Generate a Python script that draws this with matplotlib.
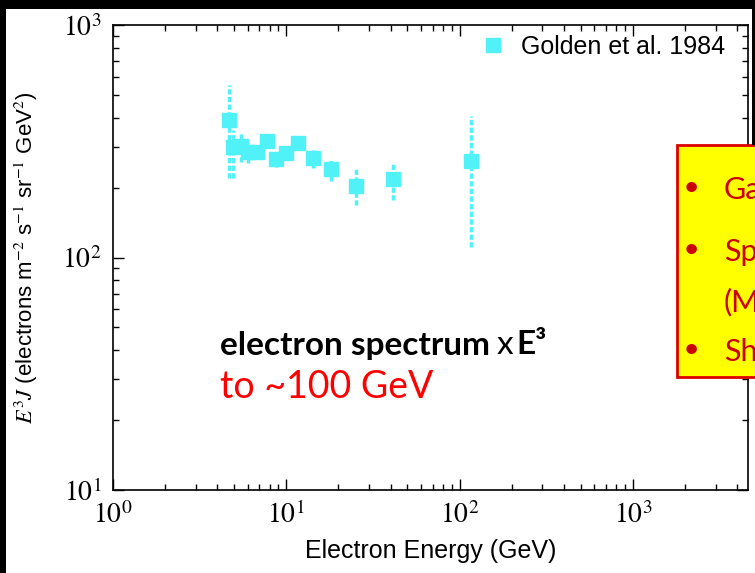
import numpy as np
import matplotlib.pyplot as plt
from matplotlib.patches import Rectangle
from matplotlib.lines import Line2D
from matplotlib.ticker import LogLocator, FuncFormatter, NullFormatter

plt.rcParams['mathtext.fontset'] = 'stix'

# Golden et al. 1984 electron spectrum x E^3
energy = [4.67, 4.95, 5.46, 6.04, 6.75, 7.71, 8.68, 9.96, 11.7, 14.3, 18.2, 25.2, 41.4, 116]
flux = [390, 298, 302, 285, 285, 318, 265, 281, 310, 268, 240, 204, 217, 260]
err_hi = [552, 353, 348, 308, 300, 343, 280, 302, 325, 291, 264, 240, 258, 407]
err_lo = [220, 220, 258, 254, 268, 300, 245, 262, 295, 242, 213, 168, 177, 111]

cyan = '#50F2F8'
sans = 'Liberation Sans'

fig = plt.figure(figsize=(7.55, 5.73), dpi=100)
ax = fig.add_axes([113/755, 83/573, 635/755, 465/573])

flux = np.array(flux)
yerr = [flux - np.array(err_lo), np.array(err_hi) - flux]
eb = ax.errorbar(energy, flux, yerr=yerr, fmt='s', color=cyan, markersize=10,
                 elinewidth=2.5, capsize=0)
eb[2][0].set_linestyle((0, (1.5, 0.7)))

ax.set_xscale('log')
ax.set_yscale('log')
ax.set_xlim(1, 10 ** (635 / 173.3))
ax.set_ylim(10, 1000)

pow_fmt = FuncFormatter(lambda v, pos: r'$10^{%d}$' % round(np.log10(v)))
for axis in (ax.xaxis, ax.yaxis):
    axis.set_major_locator(LogLocator(base=10))
    axis.set_minor_locator(LogLocator(base=10, subs=np.arange(2, 10)))
    axis.set_major_formatter(pow_fmt)
    axis.set_minor_formatter(NullFormatter())

ax.tick_params(which='both', direction='in', top=True, right=True, width=1)
ax.tick_params(which='major', length=8, labelsize=20, pad=8)
ax.tick_params(which='minor', length=4)
for s in ax.spines.values():
    s.set_linewidth(1.2)

ax.set_xlabel('Electron Energy (GeV)', fontsize=18, family=sans)
ax.xaxis.set_label_coords(0.5, -0.105)
ax.set_ylabel(r'$E^3J$ (electrons m$^{-2}$ s$^{-1}$ sr$^{-1}$ GeV$^2$)', fontsize=16,
              family=sans)
ax.yaxis.set_label_coords(-0.115, 0.5)

handle = Line2D([], [], marker='s', linestyle='none', color=cyan, markersize=10)
ax.legend([handle], ['Golden et al. 1984'], loc='upper right', frameon=False,
          bbox_to_anchor=(0.9795, 1.0), borderaxespad=0, handlelength=1.0,
          handletextpad=0.6, prop={'family': sans, 'size': 18})

# slide overlay text
bold = fig.text(220 / 755, 1 - 345 / 573, 'electron spectrum', fontsize=24, fontweight='bold',
                family='Lato', va='center', ha='left')
fig.text(220 / 755, 1 - 387 / 573, 'to ~100 GeV', fontsize=27, color='#FF0000',
         family='Lato', va='center', ha='left')

fig.canvas.draw()
x2 = bold.get_window_extent(fig.canvas.get_renderer()).x1 / 755
fig.text(x2 + 7 / 755, 1 - 345 / 573, 'x', fontsize=24, family='Lato', va='center')
fig.text(x2 + 26 / 755, 1 - 345 / 573, 'E\u00b3', fontsize=24, fontweight='bold',
         family='Lato', va='center')

# yellow box
fig.patches.append(Rectangle((677 / 755, 1 - 377 / 573), 90 / 755, 232 / 573,
                             transform=fig.transFigure, facecolor='#FFFF00',
                             edgecolor='#DD0000', linewidth=2, zorder=5))
red = '#CC0000'
for y, bullet, txt in [(190, True, 'Ga'), (252, True, 'Sp'), (302, False, '(M'), (352, True, 'Sh')]:
    if bullet:
        fig.text(691 / 755, 1 - y / 573, '\u2022', fontsize=26, color=red, ha='center',
                 va='center', zorder=6)
    fig.text(724 / 755, 1 - y / 573, txt, fontsize=22, color=red, family='Lato',
             va='center', zorder=6)

# black slide borders
for rect in [(0, 0, 6, 573), (0, 0, 755, 9), (752, 0, 3, 145)]:
    x, y, w, h = rect
    fig.patches.append(Rectangle((x / 755, 1 - (y + h) / 573), w / 755, h / 573,
                                 transform=fig.transFigure, facecolor='black',
                                 edgecolor='none', zorder=10))

fig.savefig('out.png', dpi=100)
